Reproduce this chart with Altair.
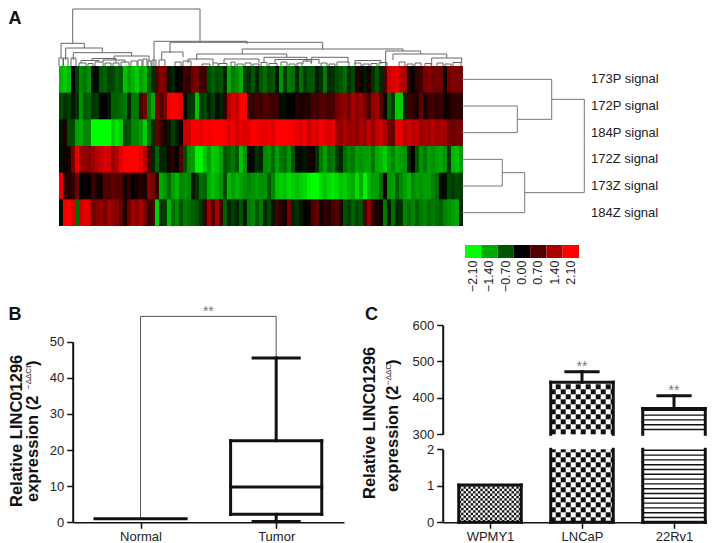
import altair as alt
import pandas as pd

FONT = "Liberation Sans"
INK = "#111111"

# ---------- Panel A values ----------
row_names = ["173P signal", "172P signal", "184P signal", "172Z signal", "173Z signal", "184Z signal"]
row_173P = [-1.5,-1.7,-1.5,0.0,-0.5,-1.1,-1.0,-1.2,-0.1,-0.1,-0.7,-0.8,-0.5,-0.6,-0.8,-0.7,-1.6,-1.3,-1.5,-1.7,-1.3,-1.5,-0.8,-0.4,0.7,
 1.1,1.0,-0.2,-0.3,0.0,0.1,0.5,0.4,0.9,1.0,0.5,0.5,-0.6,-0.8,-0.6,-0.7,-0.3,-1.4,-1.0,-1.2,-1.4,-0.5,-0.4,-0.7,-0.3,-0.7,
 -0.9,-0.6,-0.7,-0.2,-1.2,-0.5,-1.0,-0.9,-0.3,-0.9,-0.5,-0.7,-0.7,-0.2,-0.4,-1.0,-0.3,-0.4,-0.6,-0.7,-0.9,-0.4,-0.6,0.3,0.1,
 -0.2,0.2,-0.4,-0.7,-0.3,0.6,1.7,1.8,1.9,1.5,1.4,0.2,0.1,0.4,0.5,1.0,1.1,0.9,1.0,0.9,0.1,0.9,1.1,1.0,1.0]
row_172P = [-0.6,-0.4,-0.5,-0.2,-0.4,-1.2,-0.7,-0.8,-0.4,-0.5,0.0,0.0,-0.2,-0.8,-0.8,-0.9,-1.0,-0.3,-1.0,-1.0,0.6,0.9,-1.0,-1.4,1.0,
 0.7,1.0,2.0,2.1,2.0,1.9,0.0,-0.4,-0.5,-1.6,-0.5,-0.6,-0.3,-0.5,-0.1,-0.3,0.4,1.5,1.8,1.6,2.1,2.1,0.5,0.4,0.6,0.5,
 0.7,0.6,0.5,0.5,-0.1,-0.1,0.0,0.0,0.3,0.2,0.3,0.3,0.6,0.5,0.7,0.7,0.5,0.6,0.9,1.1,1.2,0.9,1.4,1.1,1.3,
 1.0,0.6,1.2,1.3,0.7,0.1,-0.8,-0.5,-1.7,-1.7,-0.3,0.5,0.4,0.2,0.8,0.2,0.5,0.5,0.4,0.5,0.1,0.2,0.4,0.4,0.3]
row_184P = [-0.2,0.2,-0.6,-0.6,-1.3,-1.4,-1.1,-1.1,-2.1,-2.1,-2.1,-2.1,-2.1,-1.7,-1.9,-1.7,-0.6,-0.7,-1.1,-1.1,-1.3,-1.7,-0.9,-0.4,0.8,
 0.5,0.2,-0.2,-0.5,-0.2,0.1,1.6,1.7,2.0,2.0,1.9,2.1,2.0,2.1,2.1,2.1,2.0,1.8,2.0,1.7,1.9,1.8,1.9,2.1,2.0,1.9,
 1.9,2.0,1.8,2.1,2.1,2.1,2.1,2.0,1.9,1.8,2.0,1.6,1.9,1.8,2.0,1.9,1.8,1.9,1.3,1.2,1.4,1.2,1.3,1.2,1.4,
 1.2,1.6,1.2,1.6,1.7,1.4,1.0,0.8,1.9,1.9,1.5,1.7,1.5,1.6,1.3,1.4,1.3,1.5,1.3,1.4,1.3,1.0,0.9,1.0,1.0]
row_172Z = [-0.1,0.1,0.2,1.0,1.9,1.3,1.2,1.1,1.3,1.5,1.6,1.8,1.7,1.3,1.5,1.9,2.1,2.1,2.1,2.1,1.9,1.5,0.6,-0.3,-0.8,
 -0.3,-0.3,0.2,0.3,0.0,0.7,-0.6,-1.2,-1.3,-2.0,-2.0,-1.6,-1.3,-1.7,-1.6,-1.3,-0.7,-0.8,-1.0,-0.7,-1.6,-1.2,0.0,-0.1,-0.4,-0.3,
 -1.1,-1.2,-0.9,-1.3,-1.0,-0.9,-1.2,-0.7,-0.1,-0.1,-0.2,0.2,0.1,-0.4,-1.0,-1.3,-0.9,-1.0,-0.5,-0.3,-0.9,-1.1,-1.0,-1.3,-1.2,
 -1.3,-1.3,-1.0,-1.4,-1.5,-1.7,-1.3,-1.1,-1.4,-1.3,-1.2,-0.3,0.0,-0.7,-1.2,-1.0,-1.3,-1.2,-1.3,-1.4,-1.2,-0.4,-1.5,-1.6,-1.3]
row_173Z = [1.9,0.4,0.3,0.4,0.9,0.0,0.1,0.0,0.5,0.2,0.1,0.7,0.6,0.8,0.7,0.7,0.1,0.4,0.0,0.2,0.3,0.2,1.1,1.0,0.4,
 -1.4,-1.2,-0.9,-1.3,-1.5,-1.1,-1.2,-1.1,-0.2,-0.4,-0.9,-0.8,-1.4,-1.6,-1.4,-1.2,-0.6,-1.5,-1.3,-1.5,-1.3,-1.2,-1.1,-1.2,-1.3,-1.2,
 -1.2,-0.7,-1.1,-1.6,-1.7,-1.6,-1.8,-1.7,-1.6,-1.7,-1.8,-2.0,-2.1,-2.1,-1.8,-1.6,-1.8,-1.9,-1.8,-1.6,-1.7,-1.5,-1.4,-1.8,-1.4,
 -2.0,-1.5,-1.3,-1.3,-0.9,0.1,-1.2,-1.3,-0.8,-1.1,-1.3,-1.5,-1.1,-1.3,-1.2,-1.3,-1.3,-1.1,-0.9,-0.1,-0.1,-0.6,-0.5,-0.6,-0.5]
row_184Z = [-0.1,2.0,2.1,1.8,-0.9,1.7,1.9,1.8,0.9,1.1,1.2,1.0,1.3,1.2,1.1,0.8,0.2,0.9,1.3,1.1,1.4,1.0,0.4,0.6,-1.7,
 -0.4,-0.5,-1.5,-0.9,-1.1,-0.7,-1.0,-0.9,-0.8,-0.7,-0.4,0.5,1.3,0.7,1.4,0.5,-0.8,-0.3,-0.5,-0.3,-0.7,-0.2,-1.0,-1.1,-0.7,-1.0,
 -0.3,-0.6,-0.2,0.6,0.3,0.2,1.0,-0.3,-0.4,-0.2,0.0,0.1,0.7,0.8,0.2,0.4,0.3,0.6,0.7,0.2,-0.7,-0.5,-0.8,-0.6,-0.7,
 0.6,1.2,0.4,0.2,0.1,-1.0,-0.2,-0.9,-0.3,-0.4,-1.1,-0.9,-1.1,-0.8,-1.0,-1.1,-0.9,-1.0,-0.9,-0.8,-1.1,-1.2,-1.3,-1.4,-0.3]
heat_rows = [row_173P, row_172P, row_184P, row_172Z, row_173Z, row_184Z]

# column dendrogram: leaf position of both legs, merge height, height of each leg's foot
merge_left  = [13.7,2,6.7,14.3,95,111,183.3,137.7,102.7,326.7,334,372.7,252.7,216,
               55,22,33,44,0,4.5,12,20,29,36,46,54,62,72,79,84,89,93,100,116,124,129,143,165,205,296,
               154,160,172,178,186,194,202,210,222,230,238,244,262,270,278,296,304,312,320,340,348,356,366,378,386,394]
merge_right = [141,25.3,43.3,72.7,188,263.7,344,227.7,124,361.7,387.7,402.7,289,260,
               90,40,57,66,4,9,17,27,34,44,52,60,70,78,83,88,92,97,106,122,132,154,151,200,248,322,
               159,168,176,184,192,200,208,218,228,236,243,252,268,276,290,302,310,318,328,346,354,362,372,384,392,402]
merge_h     = [57,22.7,18,13.3,24.7,23.7,17,12,14,15,12,8,8.7,6.5,
               10,5.5,7.5,6,8,8,8,3,2.5,4,3,3,4,5,6,7,5,6,6,4,5,7,2,7,8.7,5.5,
               3,2.5,4,2,3,2,3.5,2.5,4,2,3,5,3,2,4,3,2,2.5,3.5,4,2,3,2.5,3,2,3.5]
leg_left    = [22.7,8,6,6,0,13.3,12,6,6,0,6,0,3,3,
               6,3,5.5,4,0,0,0,0,0,0,0,0,0,0,0,0,0,0,0,0,0,3,0,3,4,2,
               0,0,0,0,0,0,0,0,0,0,0,2,0,0,0,0,0,0,0,0,0,0,0,0,0,0]
leg_right   = [24.7,18,14,10,22,17,15,8.7,9,12,8,3,3,2,
               5,4,3,3,0,0,0,0,0,0,0,0,0,0,0,0,0,0,0,0,0,3,0,3,4,2,
               0,0,0,0,0,0,0,0,0,0,0,2,0,0,0,0,0,0,0,0,0,0,0,0,0,0]

# row dendrogram: rows (centre positions) joined, distance of merge, distance of each child
join_lo  = [1.5, 0.5, 3.5, 4.0, 1.25]
join_hi  = [2.5, 2.0, 4.5, 5.5, 4.75]
join_d   = [55.3, 89.7, 40.3, 62.7, 122.3]
child_lo = [0, 0, 0, 40.3, 89.7]
child_hi = [0, 55.3, 0, 0, 62.7]

legend_labels = ["\u22122.10", "\u22121.40", "\u22120.70", "0.00", "0.70", "1.40", "2.10"]
legend_values = [-2.1, -1.4, -0.7, 0.0, 0.7, 1.4, 2.1]

# ---------- Panel B values ----------
b_groups = ["Normal", "Tumor"]
normal_value = 1.0
tumor_box = dict(low=0.2, q1=2.2, median=9.8, q3=22.6, high=45.5)
b_bracket_top = 57
# ---------- Panel C values ----------
c_groups = ["WPMY1", "LNCaP", "22Rv1"]
c_values = [1.02, 443, 371]
c_err_top = [None, 472, 406]
c_star_y = [None, 484, 418]

# ---------- pixel layout of the panels on the page ----------
W, H = 699, 535
HEAT_X = [51, 455]
HEAT_Y = [58, 218]
B_X = [64.7, 336]
B_Y = [514.3, 333.7]
C_X = [434.7, 699]
C_UP = [426.3, 317]
C_LOW = [514.3, 441.3]
C_STEP = 92.0

def axis_style(**kw):
    kw.setdefault("labelExpr", "datum.value")
    return alt.Axis(title=None, grid=False, labelFont=FONT, labelFontSize=13, labelColor="#222222",
                    domainColor=INK, tickColor=INK, tickSize=6, labelOverlap=False, **kw)

def sx(dom, rng):
    return alt.Scale(domain=dom, range=rng, nice=False, zero=False)

def segs(df, xs, ys, width=1.0, color=INK, xaxis=None, yaxis=None, cap="butt"):
    return alt.Chart(df).mark_rule(strokeWidth=width, color=color, strokeCap=cap).encode(
        x=alt.X("x:Q", scale=xs, axis=xaxis), x2="x2:Q",
        y=alt.Y("y:Q", scale=ys, axis=yaxis), y2="y2:Q")

def seg_df(rows):
    return pd.DataFrame(rows, columns=["x", "x2", "y", "y2"])

one = pd.DataFrame({"a": [0]})
def note(t, x, y, size=16.5, weight="bold", angle=None, color="#111111", align="left", baseline="alphabetic"):
    kw = dict(text=t, font=FONT, fontSize=size, fontWeight=weight, color=color, align=align, baseline=baseline)
    if angle is not None:
        kw["angle"] = angle
    return alt.Chart(one).mark_text(**kw).encode(x=alt.value(x), y=alt.value(y))

layers = []

# ----- heat map -----
COLOR = alt.Scale(domain=[-2.1, 0, 2.1], range=["#00ff00", "#000000", "#ff0000"], interpolate="rgb")
heat = pd.DataFrame([dict(x=i, x2=i + 1, y=r, y2=min(r + 1.03, 6), v=v)
                     for r, row in enumerate(heat_rows) for i, v in enumerate(row)])
layers.append(alt.Chart(heat).mark_rect(strokeWidth=0).encode(
    x=alt.X("x:Q", scale=sx([0, 101], HEAT_X), axis=None), x2="x2:Q",
    y=alt.Y("y:Q", scale=sx([0, 6], HEAT_Y), axis=None), y2="y2:Q",
    color=alt.Color("v:Q", scale=COLOR, legend=None)))

# ----- column dendrogram -----
dend = []
for a, b, h, la, lb in zip(merge_left, merge_right, merge_h, leg_left, leg_right):
    dend += [(a, b, h, h), (a, a, la, h), (b, b, lb, h)]
layers.append(segs(seg_df(dend), sx([0, 404], HEAT_X), sx([0, 65], [58, -7]), width=1.0, color="#666666"))

# ----- row dendrogram -----
rd = []
for lo, hi, d, cl, ch in zip(join_lo, join_hi, join_d, child_lo, child_hi):
    rd += [(d, d, lo, hi), (cl, d, lo, lo), (ch, d, hi, hi)]
RD_X = sx([0, 122.3], [454, 576.3])
RD_Y = sx([0, 6], HEAT_Y)
layers.append(segs(seg_df(rd), RD_X, RD_Y, width=1.0, color="#777777"))
labels = pd.DataFrame({"d": [129] * 6, "y": [i + 0.5 for i in range(6)], "t": row_names})
layers.append(alt.Chart(labels).mark_text(font=FONT, fontSize=13, align="left", baseline="middle", color="#222222").encode(
    x=alt.X("d:Q", scale=RD_X, axis=None), y=alt.Y("y:Q", scale=RD_Y, axis=None), text="t:N"))

# ----- colour key -----
key = pd.DataFrame({"lab": legend_labels, "v": legend_values, "k": ["k"] * 7})
layers.append(alt.Chart(key).mark_rect(strokeWidth=0).encode(
    x=alt.X("lab:N", sort=legend_labels,
            scale=alt.Scale(type="band", domain=legend_labels, range=[457, 571], paddingInner=0, paddingOuter=0),
            axis=alt.Axis(title=None, orient="bottom", offset=250 - H, ticks=False, domain=False, grid=False,
                          labelAngle=270, labelAlign="right", labelBaseline="middle", labelPadding=2,
                          labelFont=FONT, labelFontSize=12.5, labelColor="#222222")),
    y=alt.Y("k:N", scale=alt.Scale(type="band", domain=["k"], range=[237, 250], paddingInner=0, paddingOuter=0), axis=None),
    color=alt.Color("v:Q", scale=COLOR, legend=None)))

# ----- panel B -----
BXS = sx([-0.5, 1.5], B_X)
BYS = sx([0, 50], B_Y)
t = tumor_box
bx_half, cap_half = 0.336, 0.17
layers.append(segs(seg_df([(0, 0, normal_value, b_bracket_top), (0, 1, b_bracket_top, b_bracket_top), (1, 1, t["high"], b_bracket_top)]),
                   BXS, BYS, width=1, color="#555555",
                   xaxis=axis_style(orient="bottom", offset=B_Y[0] - H, values=[0, 1], labelExpr="datum.value==0?'Normal':'Tumor'",
                                    domainWidth=1.5, tickWidth=1.5, labelPadding=2),
                   yaxis=axis_style(orient="left", offset=-B_X[0], values=[0, 10, 20, 30, 40, 50], domainWidth=2, tickWidth=1.5, labelPadding=3)))
layers.append(segs(seg_df([
    (-bx_half, bx_half, normal_value, normal_value),
    (1, 1, t["q3"], t["high"]), (1, 1, t["low"], t["q1"]),
    (1 - cap_half, 1 + cap_half, t["high"], t["high"]), (1 - cap_half, 1 + cap_half, t["low"], t["low"]),
    (1 - bx_half, 1 + bx_half, t["median"], t["median"]),
    (1 - bx_half, 1 + bx_half, t["q1"], t["q1"]), (1 - bx_half, 1 + bx_half, t["q3"], t["q3"]),
    (1 - bx_half, 1 - bx_half, t["q1"], t["q3"]), (1 + bx_half, 1 + bx_half, t["q1"], t["q3"]),
]), BXS, BYS, width=3, color=INK, cap="square"))
layers.append(alt.Chart(pd.DataFrame({"x": [0.5], "y": [b_bracket_top + 1.2]})).mark_text(
    text="**", font=FONT, fontSize=14, color="#777777", baseline="middle").encode(
    x=alt.X("x:Q", scale=BXS, axis=None), y=alt.Y("y:Q", scale=BYS, axis=None)))

# ----- panel C -----
CXS = sx([(C_X[0] - 482) / C_STEP, (C_X[1] - 482) / C_STEP], C_X)
CUP = sx([300, 600], C_UP)
CLOW = sx([0, 2], C_LOW)
half = 0.34
cap_c = 0.175

def checker(x0, x1, y0, y1, dx, dy):
    out = []
    nx, ny = int(round((x1 - x0) / dx)), int(round((y1 - y0) / dy))
    for i in range(nx):
        for j in range(ny):
            if (i + j) % 2 == 0:
                out.append((x0 + i * dx, min(x0 + (i + 1) * dx, x1), y0 + j * dy, min(y0 + (j + 1) * dy, y1)))
    return seg_df(out)

def rects(df, xs, ys):
    return alt.Chart(df).mark_rect(color="#111111", strokeWidth=0).encode(
        x=alt.X("x:Q", scale=xs, axis=None), x2="x2:Q", y=alt.Y("y:Q", scale=ys, axis=None), y2="y2:Q")

px_x = 1 / C_STEP
px_up = 300 / 109.3
px_low = 2 / 73.0
layers.append(rects(checker(-half, half, 0, c_values[0], 2.4 * px_x, 2.4 * px_low), CXS, CLOW))
layers.append(rects(checker(1 - half, 1 + half, 0, 2, 5 * px_x, 5 * px_low), CXS, CLOW))
layers.append(rects(checker(1 - half, 1 + half, 300, c_values[1], 5 * px_x, 5 * px_up), CXS, CUP))
stripe_low = [(2 - half, 2 + half, j * 4.8 * px_low, j * 4.8 * px_low) for j in range(1, 16)]
stripe_up = [(2 - half, 2 + half, 300 + j * 4.8 * px_up, 300 + j * 4.8 * px_up) for j in range(1, 6)]
layers.append(segs(seg_df(stripe_low), CXS, CLOW, width=1.4))
layers.append(segs(seg_df(stripe_up), CXS, CUP, width=1.4))

low_frame = [(-half, half, c_values[0], c_values[0]), (-half, half, 0, 0), (-half, -half, 0, c_values[0]), (half, half, 0, c_values[0])]
for c in (1, 2):
    low_frame += [(c - half, c + half, 0, 0), (c - half, c - half, 0, 2), (c + half, c + half, 0, 2)]
layers.append(segs(seg_df(low_frame), CXS, CLOW, width=3, cap="square",
                   xaxis=axis_style(orient="bottom", offset=C_LOW[0] - H, values=[0, 1, 2],
                                    labelExpr="['WPMY1','LNCaP','22Rv1'][datum.value]",
                                    domainWidth=1.5, tickWidth=1.5, labelPadding=2),
                   yaxis=axis_style(orient="left", offset=-C_X[0], values=[0, 1, 2], domainWidth=2, tickWidth=1.5, labelPadding=3)))
up_frame = []
for c in (1, 2):
    v, e = c_values[c], c_err_top[c]
    up_frame += [(c - half, c + half, v, v), (c - half, c - half, 300, v), (c + half, c + half, 300, v),
                 (c, c, v, e), (c - cap_c, c + cap_c, e, e)]
layers.append(segs(seg_df(up_frame), CXS, CUP, width=3, cap="square",
                   yaxis=axis_style(orient="left", offset=-C_X[0], values=[300, 400, 500, 600], domainWidth=2, tickWidth=1.5, labelPadding=3)))
stars = pd.DataFrame({"x": [1, 2], "y": [c_star_y[1], c_star_y[2]]})
layers.append(alt.Chart(stars).mark_text(text="**", font=FONT, fontSize=14, color="#777777", baseline="middle").encode(
    x=alt.X("x:Q", scale=CXS, axis=None), y=alt.Y("y:Q", scale=CUP, axis=None)))

# ----- panel letters and axis titles -----
layers += [
    note("A", 0.5, 16, size=18),
    note("B", 0.5, 312, size=18),
    note("C", 357, 312, size=18),
    note("Relative LINC01296", 8.5, 499, angle=270, baseline="middle"),
    note("expression (2", 25, 494, angle=270, baseline="middle"),
    note("\u2212\u0394\u0394Ct", 21, 381, size=8, weight="normal", angle=270, baseline="middle"),
    note(")", 25, 358, angle=270, baseline="middle"),
    note("Relative LINC01296", 362, 491, angle=270, baseline="middle"),
    note("expression (2", 385, 484, angle=270, baseline="middle"),
    note("\u2212\u0394\u0394Ct", 381, 377, size=8, weight="normal", angle=270, baseline="middle"),
    note(")", 385, 357, angle=270, baseline="middle"),
]

chart = alt.layer(*layers).resolve_scale(x="independent", y="independent").properties(
    width=W, height=H, padding=0, autosize=alt.AutoSizeParams(type="none")
).configure_view(strokeWidth=0)

chart.save("out.html", embed_options={"renderer": "svg", "actions": False})
